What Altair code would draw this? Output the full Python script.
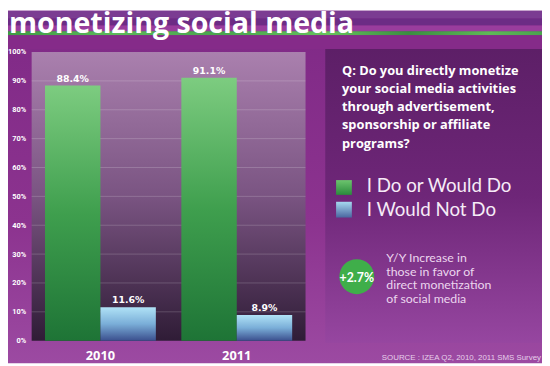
import altair as alt
import pandas as pd

# ---------------- data ----------------
years = ["2010", "2011"]
series = ["I Do or Would Do", "I Would Not Do"]
do_values = [88.4, 91.1]
not_values = [11.6, 8.9]
y_ticks = [0, 10, 20, 30, 40, 50, 60, 70, 80, 90, 100]

title_text = "monetizing social media"
question_lines = [
    "Q: Do you directly monetize",
    "your social media activities",
    "through advertisement,",
    "sponsorship or affiliate",
    "programs?",
]
badge_text = "+2.7%"
note_lines = [
    "Y/Y Increase in",
    "those in favor of",
    "direct monetization",
    "of social media",
]
source_text = "SOURCE : IZEA Q2, 2010, 2011 SMS Survey"

rows = []
for i, yr in enumerate(years):
    rows.append({"year": yr, "series": series[0], "value": do_values[i], "label": f"{do_values[i]:.1f}%"})
    rows.append({"year": yr, "series": series[1], "value": not_values[i], "label": f"{not_values[i]:.1f}%"})
df = pd.DataFrame(rows)

W, H = 278, 293
one = alt.Data(values=[{"k": 0}])


def grad_v(stops):
    return {"gradient": "linear", "x1": 0, "y1": 0, "x2": 0, "y2": 1,
            "stops": [{"offset": o, "color": c} for o, c in stops]}


def grad_h(stops):
    return {"gradient": "linear", "x1": 0, "y1": 0, "x2": 1, "y2": 0,
            "stops": [{"offset": o, "color": c} for o, c in stops]}


def rect(x, x2, y, y2, fill):
    return alt.Chart(one).mark_rect(fill=fill).encode(
        x=alt.value(x), x2=alt.value(x2), y=alt.value(y), y2=alt.value(y2))


def txt(x, y, text, **kw):
    return alt.Chart(one).mark_text(text=text, **kw).encode(x=alt.value(x), y=alt.value(y))


green_grad = grad_v([(0, "#7dcc80"), (0.5, "#3f9f4e"), (1, "#1e7436")])
blue_grad = grad_v([(0, "#b0e2f6"), (0.5, "#7aaed8"), (1, "#3b4f8e")])

# ---------------- decorations ----------------
bg = rect(-24, 518, -42, 316, grad_v([(0, "#7f2986"), (0.6, "#8c338f"), (1, "#9c4aa2")]))
band1 = rect(-24, 518, -42, -34, "#7b3c92")
band2 = rect(-24, 518, -34, -27, "#6c2c85")
band3 = rect(-24, 518, -27, -21, "#993d9d")
stripe = rect(-24, 518, -21, -17, grad_h([
    (0, "#3f9b45"), (0.2, "#5cb85a"), (0.4, "#4aa34e"), (0.6, "#66c25c"),
    (0.75, "#3a8d40"), (0.9, "#5fb957"), (1, "#4aa34e")]))
under = rect(-24, 518, -17, -3, "#852b89")
title = txt(-23, -19, title_text, align="left", baseline="alphabetic", font="Open Sans",
            fontSize=29, fontWeight="bold", color="white")

panel = rect(298, 518, -3, 295, grad_v([(0, "#5d1f67"), (0.5, "#6e2678"), (1, "#9646a0")]))
plot_bg = rect(0, W, 0, H, grad_v([(0, "#aa80ae"), (0.5, "#7a5482"), (1, "#2f1c36")]))

y_enc = alt.Y("value:Q", title=None, scale=alt.Scale(domain=[0, 100]),
              axis=alt.Axis(values=y_ticks, labelExpr="datum.value + '%'", grid=False,
                            domain=False, ticks=False, labelFont="Roboto",
                            labelFontSize=7.5, labelFontWeight="bold", labelColor="white",
                            labelPadding=6, zindex=1))

grid = alt.Chart(alt.Data(values=[{"value": t} for t in y_ticks[1:-1]])).mark_rule(
    color="white", opacity=0.18, strokeWidth=1).encode(
    y=y_enc, x=alt.value(0), x2=alt.value(W))

x_enc = alt.X("year:N", title=None, sort=years,
              scale=alt.Scale(paddingInner=0.187, paddingOuter=0.098),
              axis=alt.Axis(labelAngle=0, domain=False, ticks=False, labelFont="Open Sans",
                            labelFontSize=13, labelFontWeight="bold", labelColor="white",
                            labelPadding=9, zindex=1))
xo_enc = alt.XOffset("series:N", sort=series,
                     scale=alt.Scale(domain=series, paddingInner=0, paddingOuter=0))

base = alt.Chart(df).encode(x=x_enc, xOffset=xo_enc, y=y_enc)
bars_do = base.transform_filter(alt.datum.series == series[0]).mark_bar(fill=green_grad)
bars_not = base.transform_filter(alt.datum.series == series[1]).mark_bar(fill=blue_grad)
labels = base.mark_text(baseline="bottom", dy=-2, font="DejaVu Sans", fontSize=9.5,
                        fontWeight="bold", color="white").encode(text="label:N")

question = txt(315, 23, question_lines, align="left", baseline="alphabetic", font="Open Sans",
               fontSize=13, fontWeight="bold", color="white", lineHeight=18.5)

leg1 = rect(309, 325, 130, 145, grad_v([(0, "#6cc46e"), (1, "#2a8a3c")]))
leg2 = rect(309, 325, 152, 168, grad_v([(0, "#a6d8f0"), (1, "#4a66a0")]))
leg1t = txt(340, 136, series[0], align="left", baseline="middle", font="Lato",
            fontSize=19, color="#f6ecf7")
leg2t = txt(340, 160, series[1], align="left", baseline="middle", font="Lato",
            fontSize=19, color="#f6ecf7")

circle = alt.Chart(one).mark_point(filled=True, shape="circle", size=1257, color="#3fae4a",
                                   opacity=1).encode(x=alt.value(330), y=alt.value(228))
badge = txt(330, 229, badge_text, align="center", baseline="middle", font="Lato",
            fontSize=12.5, fontWeight="bold", color="white")
note = txt(360, 213, note_lines, align="left", baseline="alphabetic", font="Lato",
           fontSize=12.5, color="#ecd6ee", lineHeight=14)
source = txt(517, 311, source_text, align="right", baseline="middle",
             font="Liberation Sans", fontSize=8, color="#e6cfea")

chart = alt.layer(
    bg, band1, band2, band3, stripe, under, title, panel, plot_bg, grid,
    bars_do, bars_not, labels, question, leg1, leg2, leg1t, leg2t,
    circle, badge, note, source,
).properties(
    width=W, height=H,
    autosize=alt.AutoSizeParams(type="none"),
    padding={"left": 24, "top": 42, "right": 240, "bottom": 23},
).configure_view(strokeWidth=0)

chart.save("out.html", embed_options={"renderer": "svg", "actions": False})
